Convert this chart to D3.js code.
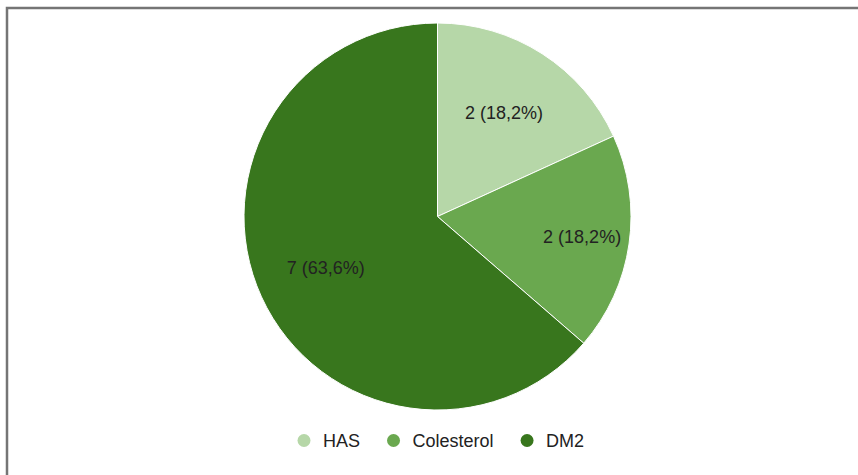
<!DOCTYPE html>
<html>
<head>
<meta charset="utf-8">
<script src="https://cdn.jsdelivr.net/npm/d3@7"></script>
<style>
  html, body { margin: 0; padding: 0; background: #fff; }
  svg { display: block; }
  text { font-family: "Liberation Sans", Arial, sans-serif; }
</style>
</head>
<body>
<svg id="chart" width="858" height="475"></svg>
<script>
// Data
const categories = ["HAS", "Colesterol", "DM2"];
const values = [2, 2, 7];
const colors = ["#b6d7a8", "#6aa84f", "#38761d"];

// Layout
const W = 858, H = 475;
const cx = 437.5, cy = 216.5, radius = 193.5;
const labelRadiusFactor = [0.635, 0.755, 0.635];

const svg = d3.select("#chart");

// frame (top and left edges)
svg.append("path")
  .attr("d", `M7,${H} L7,8 L${W},8`)
  .attr("fill", "none")
  .attr("stroke", "#757575")
  .attr("stroke-width", 2.5);

const total = d3.sum(values);
const pie = d3.pie().sort(null).value(d => d.value);
const data = categories.map((c, i) => ({ name: c, value: values[i], i }));
const arcs = pie(data);

const arc = d3.arc().innerRadius(0).outerRadius(radius);

const g = svg.append("g").attr("transform", `translate(${cx},${cy})`);

g.selectAll("path.slice")
  .data(arcs)
  .join("path")
  .attr("class", "slice")
  .attr("d", arc)
  .attr("fill", d => colors[d.data.i])
  .attr("stroke", "#ffffff")
  .attr("stroke-width", 1);

const fmt = d => {
  const pct = (d.data.value / total * 100).toFixed(1).replace(".", ",");
  return `${d.data.value} (${pct}%)`;
};

g.selectAll("text.lbl")
  .data(arcs)
  .join("text")
  .attr("class", "lbl")
  .attr("transform", d => {
    const lr = radius * labelRadiusFactor[d.data.i];
    const c = d3.arc().innerRadius(lr).outerRadius(lr).centroid(d);
    return `translate(${c[0]},${c[1]})`;
  })
  .attr("text-anchor", "middle")
  .attr("dominant-baseline", "central")
  .attr("font-size", 18)
  .attr("fill", "#222")
  .text(fmt);

// Legend
const legendY = 440.5;
const legend = svg.append("g");
const items = legend.selectAll("g.item").data(categories).join("g").attr("class", "item");
items.append("circle").attr("r", 6.5).attr("fill", (d, i) => colors[i]);
items.append("text")
  .attr("x", 19)
  .attr("dominant-baseline", "central")
  .attr("font-size", 18)
  .attr("fill", "#222")
  .text(d => d);

// position items
let x = 0;
const gap = 27;
const widths = [];
items.each(function () {
  widths.push(this.getBBox().width);
});
const totalW = d3.sum(widths) + gap * (widths.length - 1);
const startX = 297.5 + 6.5;
x = startX;
items.attr("transform", (d, i) => {
  const t = `translate(${x},${legendY})`;
  x += widths[i] + gap;
  return t;
});
</script>
</body>
</html>
